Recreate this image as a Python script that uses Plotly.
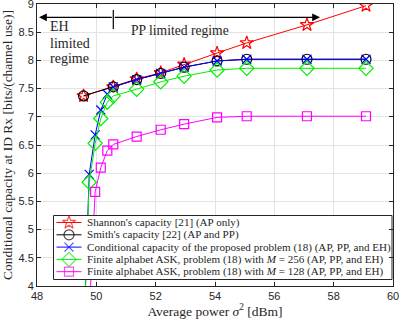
import plotly.graph_objects as go

# ---- data ----
x_ref = [49.57, 50.57, 51.36, 52.17, 52.96, 54.07, 55.07, 57.1, 59.09]
shannon = [7.37, 7.53, 7.67, 7.78, 7.93, 8.13, 8.31, 8.63, 8.97]
smith = [7.37, 7.53, 7.66, 7.77, 7.88, 7.99, 8.02, 8.02, 8.02]
x_cond = [49.57, 49.76, 49.96, 50.15, 50.37, 50.57, 51.36, 52.17, 52.96, 54.07, 55.07, 57.1, 59.09]
cond = [3.0, 5.98, 6.68, 7.12, 7.40, 7.53, 7.66, 7.77, 7.88, 7.99, 8.02, 8.02, 8.02]
x_ask256 = [49.57, 49.76, 49.96, 50.15, 50.37, 50.57, 51.36, 52.17, 52.96, 54.07, 55.07, 57.1, 59.09]
ask256 = [3.0, 5.84, 6.53, 6.97, 7.26, 7.37, 7.49, 7.62, 7.72, 7.83, 7.86, 7.86, 7.86]
x_ask128 = [49.76, 49.96, 50.15, 50.37, 50.57, 51.36, 52.17, 52.96, 54.07, 55.07, 57.1, 59.09]
ask128 = [3.5, 5.67, 6.10, 6.40, 6.51, 6.65, 6.77, 6.87, 6.99, 7.01, 7.01, 7.01]

names = [
    "Shannon's capacity [21] (AP only)",
    "Smith's capacity [22] (AP and PP)",
    "Conditional capacity of the proposed problem (18) (AP, PP, and EH)",
    "Finite alphabet ASK, problem (18) with <i>M</i> = 256 (AP, PP, and EH)",
    "Finite alphabet ASK, problem (18) with <i>M</i> = 128 (AP, PP, and EH)",
]
colors = ["#ff0000", "#000000", "#0000ff", "#00ee00", "#ff00ff"]
symbols = ["star-open", "circle-open", "x-thin-open", "diamond-open", "square-open"]
sizes = [10, 10, 9, 11, 9]
series = [(x_ref, shannon), (x_ref, smith), (x_cond, cond), (x_ask256, ask256), (x_ask128, ask128)]

SERIF = "Liberation Serif"
SANS = "Liberation Sans"
TXT = "#262626"

# ---- layout geometry (pixels) ----
W, H = 399, 319
ML, MR, MT, MB = 37, 6, 4, 33
PW, PH = W - ML - MR, H - MT - MB


def fx(px):
    return (px - ML) / PW


def fy(py):
    return (H - MB - py) / PH


fig = go.Figure()

for (xs, ys), nm, c, s, sz in zip(series, names, colors, symbols, sizes):
    fig.add_trace(go.Scatter(
        x=xs, y=ys, name=nm, mode="lines+markers", showlegend=False,
        line=dict(color=c, width=1),
        marker=dict(symbol=s, size=sz, color=c, line=dict(color=c, width=1.2)),
    ))

# ---- custom compact legend on an overlay axis (plot-fraction coordinates) ----
LG_L, LG_R, LG_T, LG_B = 53.5, 392, 215.5, 279.5
ROW0, ROWSTEP = 222.5, 12.3
LINE_L, LINE_R, TEXT_L = 56.5, 81.5, 84.5

fig.add_trace(go.Scatter(
    x=[fx(LG_L), fx(LG_R), fx(LG_R), fx(LG_L), fx(LG_L)],
    y=[fy(LG_T), fy(LG_T), fy(LG_B), fy(LG_B), fy(LG_T)],
    mode="lines", fill="toself", fillcolor="white", line=dict(color=TXT, width=1),
    xaxis="x2", yaxis="y2", showlegend=False, hoverinfo="skip",
))
for i, (nm, c, s, sz) in enumerate(zip(names, colors, symbols, sizes)):
    py = ROW0 + i * ROWSTEP
    fig.add_trace(go.Scatter(
        x=[fx(LINE_L), fx((LINE_L + LINE_R) / 2), fx(LINE_R)], y=[fy(py)] * 3,
        mode="lines+markers", line=dict(color=c, width=1),
        marker=dict(symbol=s, size=[0, sz, 0], color=c, line=dict(color=c, width=1.2)),
        xaxis="x2", yaxis="y2", showlegend=False, hoverinfo="skip",
    ))
    fig.add_annotation(x=fx(TEXT_L), y=fy(py), xref="paper", yref="paper",
                       xanchor="left", yanchor="middle", text=nm, showarrow=False,
                       font=dict(family=SERIF, size=11.1, color=TXT))

# ---- regime annotations ----
ARROW_PY, SPLIT_PX, LEFT_PX, RIGHT_PX = 17.3, 113.3, 39, 320
for end in (LEFT_PX, RIGHT_PX):
    fig.add_annotation(x=fx(end), y=fy(ARROW_PY), ax=fx(SPLIT_PX), ay=fy(ARROW_PY),
                       xref="x2", yref="y2", axref="x2", ayref="y2",
                       showarrow=True, arrowhead=2, arrowsize=1.2, arrowwidth=1.3,
                       arrowcolor="black", text="")
fig.add_shape(type="line", x0=fx(SPLIT_PX), x1=fx(SPLIT_PX), y0=fy(29), y1=fy(10),
              xref="paper", yref="paper", line=dict(color="black", width=1.2))
for word, py in zip(["EH", "limited", "regime"], [27, 43, 58]):
    fig.add_annotation(x=fx(47.5), y=fy(py), xref="paper", yref="paper",
                       xanchor="left", yanchor="middle", text=word, showarrow=False,
                       font=dict(family=SERIF, size=14, color=TXT))
fig.add_annotation(x=fx(128.5), y=fy(30), xref="paper", yref="paper",
                   xanchor="left", yanchor="middle", text="PP limited regime",
                   showarrow=False, font=dict(family=SERIF, size=13.6, color=TXT))

axis_common = dict(
    showline=True, linecolor=TXT, linewidth=1, mirror="ticks",
    ticks="inside", ticklen=4, tickcolor=TXT, automargin=False,
    showgrid=True, gridcolor="#e3e3e3", gridwidth=1, zeroline=False,
    tickfont=dict(family=SANS, size=11, color=TXT), ticklabeloverflow="allow",
)

fig.update_layout(
    width=W, height=H,
    margin=dict(l=ML, r=MR, t=MT, b=MB),
    paper_bgcolor="white", plot_bgcolor="white",
    xaxis=dict(range=[48, 60], dtick=2, tick0=48,
               title=dict(text="Average power <i>σ</i><sup>2</sup> [dBm]", standoff=3,
                          font=dict(family=SERIF, size=13.5, color=TXT)),
               **axis_common),
    yaxis=dict(range=[4, 9], dtick=0.5, tick0=4, tickformat="~g",
               title=dict(text="Conditional capacity at ID Rx [bits/(channel use)]", standoff=5,
                          font=dict(family=SERIF, size=13.5, color=TXT)),
               **axis_common),
    xaxis2=dict(overlaying="x", range=[0, 1], visible=False, fixedrange=True, automargin=False),
    yaxis2=dict(overlaying="y", range=[0, 1], visible=False, fixedrange=True, automargin=False),
    showlegend=False,
)

fig.write_html("out.html", config={"displayModeBar": False},
               post_script="document.body.style.margin='0';")
